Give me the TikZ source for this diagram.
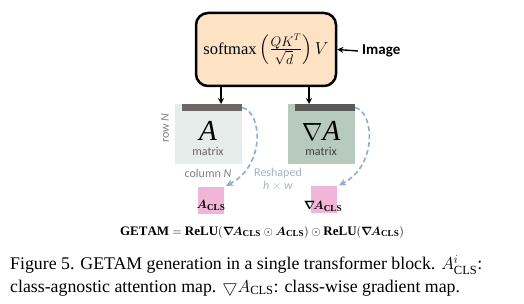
\documentclass[tikz,border=0pt]{standalone}
\usepackage{amsmath,amssymb}
\usepackage{graphicx}
\usepackage{fontspec}
\setmainfont{Liberation Serif}
\newfontfamily\carlito{Carlito}
\usetikzlibrary{arrows.meta}
\definecolor{peach}{HTML}{FDE2C4}
\definecolor{aboxc}{HTML}{E6ECE9}
\definecolor{gboxc}{HTML}{B6CABE}
\definecolor{abarc}{HTML}{6E6767}
\definecolor{gbarc}{HTML}{595959}
\definecolor{pinkc}{HTML}{F2B5DA}
\definecolor{dashblue}{HTML}{8FAADC}
\definecolor{greytext}{HTML}{808080}
\definecolor{reshtext}{HTML}{A3B3CC}
\newcommand{\fracpart}[1]{\scalebox{0.8}{$\displaystyle #1$}}
\newcommand{\bnab}{\boldsymbol{\nabla}\mkern-3mu}
\tikzset{
  mat/.style={inner sep=0pt, minimum width=67pt, minimum height=60pt},
  bar/.style={inner sep=0pt, minimum width=60pt, minimum height=7pt},
  pinkbox/.style={fill=pinkc, inner sep=0pt, minimum width=26pt, minimum height=27pt},
  blackarrow/.style={-{Stealth[length=6pt,width=6pt]}, line width=1.4pt},
  dasharrow/.style={-{Stealth[length=7pt,width=7pt]}, draw=dashblue, line width=1.6pt, dash pattern=on 5pt off 3pt},
  small/.style={font=\carlito\fontsize{12}{14}\selectfont},
}
\begin{document}
\begin{tikzpicture}[x=1pt,y=-1pt]
\useasboundingbox (0,0) rectangle (524,304);
% top box
\node[draw=black, line width=2.5pt, rounded corners=12pt, fill=peach, minimum width=140pt, minimum height=73pt, inner sep=0pt] (soft) at (266,49.5)
  {\fontsize{16.5}{18}\selectfont $\mathrm{softmax}\left(\frac{\fracpart{QK^T}}{\fracpart{\sqrt{d}}}\right)V$};
\node[font=\carlito\bfseries\fontsize{15}{17}\selectfont, anchor=west, inner sep=0pt] (img) at (362,51) {Image};
\coordinate (imgstart) at ([xshift=-4pt]img.west);
\draw[blackarrow] (imgstart) -- (soft.east);
% matrices
\node[mat, fill=aboxc] (abox) at (208.5,134) {};
\node[bar, fill=abarc] (abar) at (212,107.5) {};
\node[mat, fill=gboxc] (gbox) at (321.5,134) {};
\node[bar, fill=gbarc] (gbar) at (325,107.5) {};
\coordinate (atop) at (221,104);
\coordinate (gtop) at (309,104);
\draw[blackarrow] (soft.south -| atop) -- (atop);
\draw[blackarrow] (soft.south -| gtop) -- (gtop);
\node[font=\fontsize{29}{31}\selectfont] (Atext) at (208,131) {$\mathit{A}$};
\node[small, text=abarc] (amat) at (208,151) {matrix};
\node[font=\fontsize{29}{31}\selectfont] (Gtext) at (321,131) {$\nabla\mathit{A}$};
\node[small, text=black!75] (gmat) at (321,151) {matrix};
\node[small, text=greytext, rotate=90] (rown) at (165,128) {row \textit{N}};
\node[small, text=greytext] (coln) at (208,173) {column \textit{N}};
\node[small, text=reshtext] (resh) at (278,173) {Reshaped};
\node[small, text=reshtext] (hw) at (278,186) {\textit{h} $\times$ \textit{w}};
% pink boxes
\node[pinkbox] (acls) at (211,200.5) {};
\node[pinkbox] (gcls) at (324,200) {};
\node[font=\fontsize{13}{15}\selectfont, inner sep=0pt] (aclst) at (211,205) {$\boldsymbol{A}_{\mathbf{CLS}}$};
\node[font=\fontsize{13}{15}\selectfont, inner sep=0pt] (gclst) at (323,206) {$\bnab\boldsymbol{A}_{\mathbf{CLS}}$};
% dashed arrows
\draw[dasharrow] (abar.east) .. controls (262,112) and (266,165) .. ([xshift=2pt,yshift=1pt]acls.north east);
\draw[dasharrow] (gbar.east) .. controls (374,112) and (378,165) .. ([xshift=2pt,yshift=1pt]gcls.north east);
% formula
\node[font=\fontsize{13}{15}\selectfont] (form) at (262,232)
  {$\mathbf{GETAM}=\mathbf{ReLU}(\bnab\boldsymbol{A}_{\mathbf{CLS}}\odot\boldsymbol{A}_{\mathbf{CLS}})\odot\mathbf{ReLU}(\bnab\boldsymbol{A}_{\mathbf{CLS}})$};
% caption
\node[anchor=west, inner sep=0pt, font=\fontsize{17.8}{20}\selectfont] (cap1) at (10,265)
  {Figure 5. GETAM generation in a single transformer block. $A^i_{\mathrm{CLS}}$:};
\node[anchor=west, inner sep=0pt, font=\fontsize{17.8}{20}\selectfont] (cap2) at (10,288)
  {class-agnostic attention map. $\bigtriangledown A_{\mathrm{CLS}}$: class-wise gradient map.};
\end{tikzpicture}
\end{document}
